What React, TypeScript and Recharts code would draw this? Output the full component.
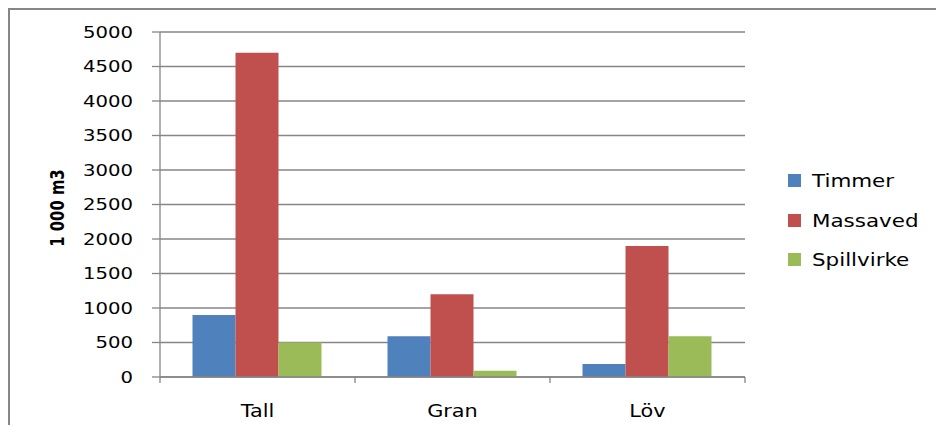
import React from 'react';
import { BarChart, Bar, XAxis, YAxis, CartesianGrid, Legend } from 'recharts';

// values (1 000 m3)
const categories = ['Tall', 'Gran', 'Löv'];
const timmer = [900, 590, 190];
const massaved = [4700, 1200, 1900];
const spillvirke = [500, 90, 590];
const yTicks = [0, 500, 1000, 1500, 2000, 2500, 3000, 3500, 4000, 4500, 5000];

const seriesNames = ['Timmer', 'Massaved', 'Spillvirke'];
const seriesColors = ['#4F81BD', '#C0504D', '#9BBB59'];

const data = categories.map((name, i) => ({
  name,
  Timmer: timmer[i],
  Massaved: massaved[i],
  Spillvirke: spillvirke[i],
}));

const CHART_W = 926;
const CHART_H = 415;
const MARGIN = { top: 22, right: 191, bottom: 0, left: 0 };
const Y_AXIS_W = 150;
const X_AXIS_H = 48;
const BAND = (CHART_W - MARGIN.left - MARGIN.right - Y_AXIS_W) / categories.length;
const AXIS = '#868686';
const STRETCH = 1.19;
const FONT = '"DejaVu Sans", Verdana, sans-serif';

const YTick = (props: any) => {
  const { x, y, payload } = props;
  return (
    <g transform={`translate(${x},${y})`}>
      <text transform={`scale(${STRETCH},1)`} textAnchor="end" dy="0.36em" fontSize={16.5} fill="#000">
        {payload.value}
      </text>
    </g>
  );
};

const XTick = (props: any) => {
  const { x, y, payload, index } = props;
  const half = BAND / 2;
  return (
    <g>
      <line x1={x - half} x2={x - half} y1={y} y2={y + 6} stroke={AXIS} strokeWidth={1.3} />
      {index === categories.length - 1 && (
        <line x1={x + half} x2={x + half} y1={y} y2={y + 6} stroke={AXIS} strokeWidth={1.3} />
      )}
      <g transform={`translate(${x},${y + 40})`}>
        <text transform={`scale(${STRETCH},1)`} textAnchor="middle" fontSize={17.5} fill="#000">
          {payload.value}
        </text>
      </g>
    </g>
  );
};

const LegendBox = () => (
  <div style={{ fontFamily: FONT }}>
    {seriesNames.map((s, i) => (
      <div key={s} style={{ display: 'flex', alignItems: 'center', height: 39.5 }}>
        <div style={{ width: 13, height: 13, background: seriesColors[i] }} />
        <span
          style={{
            marginLeft: 11,
            fontSize: 18,
            color: '#000',
            display: 'inline-block',
            transform: `scaleX(${STRETCH})`,
            transformOrigin: 'left center',
            whiteSpace: 'nowrap',
          }}
        >
          {s}
        </span>
      </div>
    ))}
  </div>
);

export default function App() {
  return (
    <div
      style={{
        position: 'absolute',
        left: 8,
        top: 8,
        width: 928,
        height: 417,
        boxSizing: 'border-box',
        borderTop: `2px solid ${AXIS}`,
        borderLeft: `2px solid ${AXIS}`,
        fontFamily: FONT,
        background: '#fff',
      }}
    >
      <BarChart
        width={CHART_W}
        height={CHART_H}
        data={data}
        margin={MARGIN}
        barCategoryGap="16.67%"
        barGap={0}
        style={{ fontFamily: FONT }}
      >
        <CartesianGrid vertical={false} stroke={AXIS} strokeWidth={1.3} />
        <XAxis
          dataKey="name"
          height={X_AXIS_H}
          axisLine={{ stroke: AXIS, strokeWidth: 1.3 }}
          tickLine={false}
          tickSize={0}
          tickMargin={0}
          tick={<XTick />}
          interval={0}
        />
        <YAxis
          width={Y_AXIS_W}
          domain={[0, 5000]}
          ticks={yTicks}
          interval={0}
          axisLine={{ stroke: AXIS, strokeWidth: 1.3 }}
          tickLine={{ stroke: AXIS, strokeWidth: 1.3 }}
          tickSize={8}
          tickMargin={19}
          tick={<YTick />}
        />
        <Legend
          layout="vertical"
          align="center"
          verticalAlign="middle"
          content={<LegendBox />}
          wrapperStyle={{ left: 778, top: 151, width: 140 }}
        />
        {seriesNames.map((s, i) => (
          <Bar key={s} dataKey={s} fill={seriesColors[i]} isAnimationActive={false} />
        ))}
      </BarChart>
      <div
        style={{
          position: 'absolute',
          left: 47,
          top: 197.5,
          transform: 'translate(-50%, -50%) rotate(-90deg) scaleX(0.78)',
          fontWeight: 'bold',
          fontSize: 19,
          whiteSpace: 'nowrap',
          color: '#000',
        }}
      >
        1 000 m3
      </div>
    </div>
  );
}
